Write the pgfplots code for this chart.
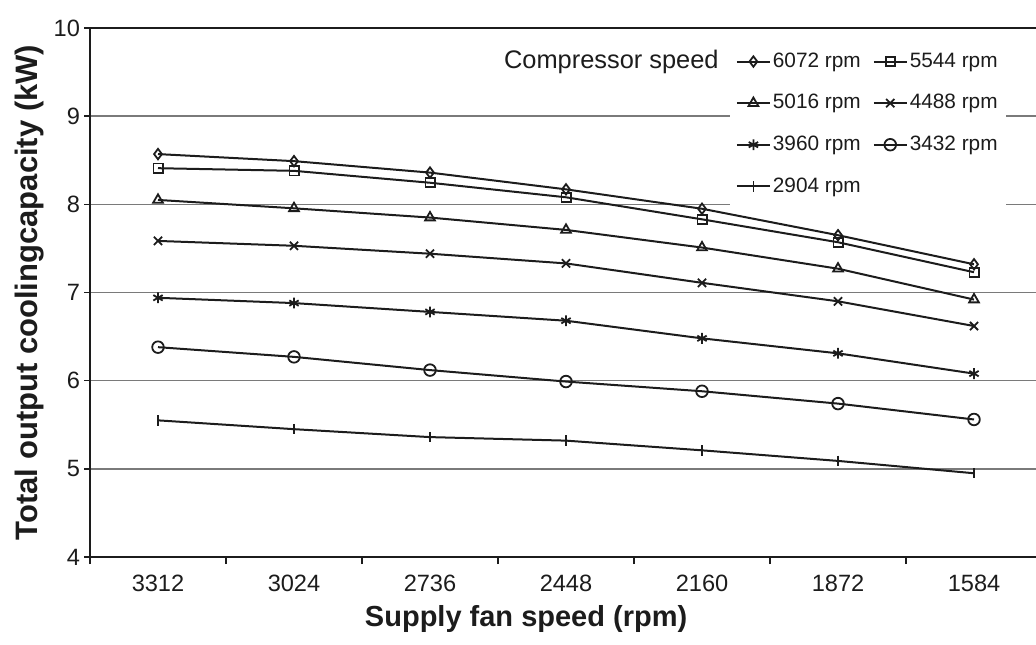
\documentclass[border=0pt]{standalone}
\usepackage{pgfplots}
\pgfplotsset{compat=1.18}
\usepackage{fontspec}
\setmainfont{Liberation Sans}
\definecolor{ink}{HTML}{1C1C1C}
\definecolor{gridc}{HTML}{7A7A7A}
\begin{document}
\begin{tikzpicture}
\useasboundingbox (-45pt,-43.5pt) rectangle (473pt,278.5pt);
\begin{axis}[
  at={(0,0)}, anchor=south west,
  scale only axis, width=473pt, height=264.5pt,
  xmin=-0.5, xmax=6.456, ymin=4, ymax=10,
  axis x line*=bottom, axis y line*=left,
  axis line style={ink, line width=1pt},
  xtick={0,1,2,3,4,5,6},
  xticklabels={3312,3024,2736,2448,2160,1872,1584},
  major x tick style={draw=none},
  minor xtick={-0.5,0.5,1.5,2.5,3.5,4.5,5.5},
  minor x tick style={ink, line width=0.8pt},
  minor tick length=3.5pt,
  ytick={4,5,6,7,8,9},
  extra y ticks={10}, extra y tick labels={10},
  extra y tick style={grid=major, major grid style={draw=ink, line width=1pt}},
  major tick length=3pt,
  tick align=outside,
  y tick style={ink, line width=0.8pt},
  ymajorgrids,
  major grid style={gridc, line width=0.7pt},
  /pgf/number format/assume math mode=true,
  tick label style={font=\fontsize{11.8}{13}\selectfont, text=ink},
  xticklabel style={yshift=-2.5pt},
  yticklabel style={xshift=1.5pt},
  xlabel={Supply fan speed (rpm)},
  xlabel style={font=\bfseries\fontsize{14.5}{16}\selectfont, text=ink, at={(rel axis cs:0.461,-0.118)}, anchor=center},
  ylabel={Total output coolingcapacity (kW)},
  ylabel style={font=\bfseries\fontsize{15.5}{17}\selectfont, text=ink, at={(rel axis cs:-0.0634,0.5)}, anchor=center},
  every axis plot/.append style={ink, line width=1pt, mark options={solid, fill=white, line width=0.9pt}},
  legend columns=2,
  legend cell align=left,
  legend style={at={(rel axis cs:0.676,0.972)}, anchor=north west, draw=none, fill=white,
    font=\fontsize{10.4}{12}\selectfont, text=ink, row sep=6.5pt,
    nodes={inner xsep=1pt, inner ysep=2pt, text height=8pt, text depth=2.3pt},
    /tikz/every even column/.append style={column sep=5pt}},
  legend image code/.code={\draw[mark repeat=2,mark phase=2,#1] plot coordinates {(0pt,0pt) (8.25pt,0pt) (16.5pt,0pt)};},
]
\addplot[mark=diamond, mark size=2.6pt] coordinates {(0,8.57) (1,8.49) (2,8.36) (3,8.17) (4,7.95) (5,7.65) (6,7.32)};
\addlegendentry{6072 rpm}
\addplot[mark=square, mark size=2.3pt] coordinates {(0,8.41) (1,8.38) (2,8.245) (3,8.08) (4,7.83) (5,7.57) (6,7.23)};
\addlegendentry{5544 rpm}
\addplot[mark=triangle, mark size=2.8pt] coordinates {(0,8.05) (1,7.955) (2,7.85) (3,7.71) (4,7.51) (5,7.27) (6,6.92)};
\addlegendentry{5016 rpm}
\addplot[mark=x, mark size=2.9pt] coordinates {(0,7.585) (1,7.53) (2,7.44) (3,7.33) (4,7.11) (5,6.90) (6,6.62)};
\addlegendentry{4488 rpm}
\addplot[mark=asterisk, mark size=2.7pt] coordinates {(0,6.94) (1,6.88) (2,6.78) (3,6.68) (4,6.48) (5,6.31) (6,6.08)};
\addlegendentry{3960 rpm}
\addplot[mark=o, mark size=2.9pt] coordinates {(0,6.38) (1,6.27) (2,6.12) (3,5.99) (4,5.88) (5,5.74) (6,5.56)};
\addlegendentry{3432 rpm}
\addplot[mark=|, mark size=2.6pt] coordinates {(0,5.55) (1,5.45) (2,5.36) (3,5.32) (4,5.21) (5,5.09) (6,4.95)};
\addlegendentry{2904 rpm}
\node[anchor=east, font=\fontsize{12.7}{14}\selectfont, text=ink] at (rel axis cs:0.672,0.9357) {Compressor speed};
\end{axis}
\end{tikzpicture}
\end{document}
